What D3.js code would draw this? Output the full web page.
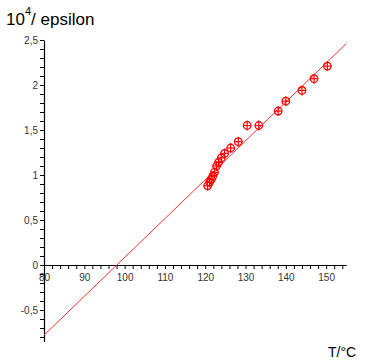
<!DOCTYPE html>
<html><head><meta charset="utf-8">
<script src="https://cdn.jsdelivr.net/npm/d3@7"></script>
<style>body{margin:0;background:#fff}svg{display:block}</style>
</head><body>
<script>
// Data
const tempC = [120.6, 121.1, 121.5, 121.9, 122.3, 122.8, 123.3, 124.0, 124.8, 126.3, 128.2, 130.4, 133.3, 138.1, 140.0, 144.0, 147.0, 150.3];
const invEps = [0.88, 0.92, 0.95, 0.99, 1.03, 1.10, 1.14, 1.19, 1.24, 1.30, 1.37, 1.55, 1.55, 1.71, 1.82, 1.94, 2.07, 2.21];
const fitT = [80, 155];
const fitV = [-0.78, 2.46];
const xTickValues = d3.range(80, 155.01, 2);
const xLabelValues = [80, 90, 100, 110, 120, 130, 140, 150];
const yTickValues = d3.range(-8, 26, 1).map(d => d / 10);
const yLabelValues = [-0.5, 0, 0.5, 1, 1.5, 2, 2.5];

const W = 365, H = 360;
const svg = d3.select("body").append("svg").attr("width", W).attr("height", H);
const x = d3.scaleLinear().domain([80, 155]).range([44, 346.3]);
const y = d3.scaleLinear().domain([-0.85, 2.5]).range([341.5, 40]);
const loc = d3.formatLocale({decimal: ",", thousands: ".", grouping: [3], currency: ["", ""], minus: "-"});
const fy = loc.format("~g");
const near = (v, arr) => arr.some(a => Math.abs(a - v) < 1e-6);

const font = "'Liberation Sans', Arial, sans-serif";

// Y axis
const gy = svg.append("g").attr("transform", `translate(${x(80)},0)`)
  .call(d3.axisLeft(y).tickValues(yTickValues).tickSizeInner(4).tickSizeOuter(0).tickPadding(2)
    .tickFormat(d => near(d, yLabelValues) ? fy(d) : ""));
// X axis at y=0
const gx = svg.append("g").attr("transform", `translate(0,${y(0)})`)
  .call(d3.axisBottom(x).tickValues(xTickValues).tickSizeInner(4).tickSizeOuter(0).tickPadding(5)
    .tickFormat(d => near(d, xLabelValues) ? d3.format("d")(d) : ""));
[gx, gy].forEach(g => {
  g.selectAll("path.domain").attr("stroke", "#000").attr("stroke-width", 1.2);
  g.selectAll(".tick line").attr("stroke", "#000");
  g.selectAll("text").attr("font-family", font).attr("font-size", 10).attr("fill", "#333");
});

// Fit line
svg.append("line")
  .attr("x1", x(fitT[0])).attr("y1", y(fitV[0]))
  .attr("x2", x(fitT[1])).attr("y2", y(fitV[1]))
  .attr("stroke", "#ff3030").attr("stroke-width", 1);

// Markers
const pts = tempC.map((t, i) => ({t, v: invEps[i]}));
const m = svg.append("g").selectAll("g").data(pts).join("g")
  .attr("transform", d => `translate(${x(d.t)},${y(d.v)})`)
  .attr("stroke", "#ff0000").attr("fill", "none").attr("stroke-width", 1.2);
m.append("circle").attr("r", 3.8);
m.append("line").attr("x1", -4).attr("x2", 4).attr("y1", 0).attr("y2", 0);
m.append("line").attr("x1", 0).attr("x2", 0).attr("y1", -5).attr("y2", 5);

// Titles
const t = svg.append("text").attr("x", 6).attr("y", 25)
  .attr("font-family", font).attr("font-size", 17).attr("fill", "#000");
t.append("tspan").text("10");
t.append("tspan").attr("font-size", 11).attr("dy", -10).text("4");
t.append("tspan").attr("dy", 10).text("/ epsilon");

svg.append("text").attr("x", 328).attr("y", 357)
  .attr("font-family", font).attr("font-size", 14).attr("fill", "#000").text("T/°C");
</script>
</body></html>
